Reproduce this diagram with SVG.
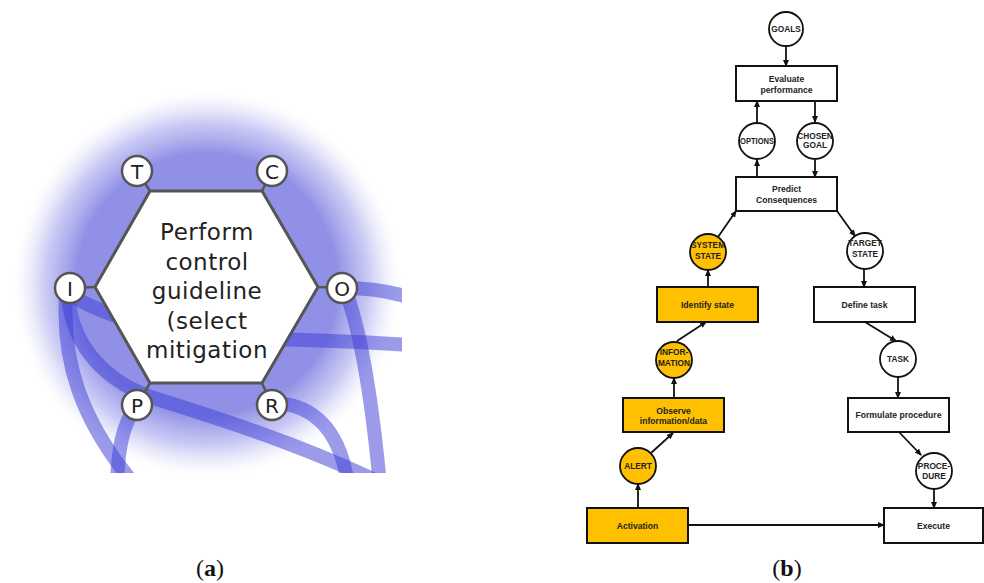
<svg xmlns="http://www.w3.org/2000/svg" width="984" height="583" viewBox="0 0 984 583">
  <defs>
    <radialGradient id="glow" cx="207" cy="284" r="195" gradientUnits="userSpaceOnUse">
      <stop offset="0" stop-color="#9090e6" stop-opacity="1"/>
      <stop offset="0.67" stop-color="#9090e6" stop-opacity="1"/>
      <stop offset="0.83" stop-color="#a0a0ec" stop-opacity="0.55"/>
      <stop offset="0.94" stop-color="#c0c0f2" stop-opacity="0.15"/>
      <stop offset="1" stop-color="#ffffff" stop-opacity="0"/>
    </radialGradient>
    <clipPath id="panelA">
      <rect x="0" y="60" width="402" height="413"/>
    </clipPath>
    <marker id="arrow" markerUnits="userSpaceOnUse" markerWidth="7" markerHeight="6" refX="6" refY="3" orient="auto">
      <path d="M0,0 L7,3 L0,6 z" fill="#111"/>
    </marker>
    <style>
      .band { fill: none; stroke: #4040d6; stroke-opacity: 0.52; stroke-width: 14; }
      .hex { fill: #ffffff; stroke: #555555; stroke-width: 3; stroke-linejoin: round; }
      .stub { stroke: #555555; stroke-width: 2.5; }
      .port { fill: #ffffff; stroke: #555555; stroke-width: 2.5; }
      .portText { font-family: "DejaVu Sans", sans-serif; font-size: 20px; fill: #222; text-anchor: middle; }
      .hexText { font-family: "DejaVu Sans", sans-serif; font-size: 23px; fill: #222; text-anchor: middle; }
      .box { fill: #ffffff; stroke: #111; stroke-width: 2; }
      .boxO { fill: #ffc000; stroke: #111; stroke-width: 2; }
      .node { fill: #ffffff; stroke: #111; stroke-width: 1.8; }
      .nodeO { fill: #ffc000; stroke: #111; stroke-width: 1.8; }
      .lbl { font-family: "Liberation Sans", Arial, sans-serif; font-weight: bold; font-size: 8.6px; fill: #222; text-anchor: middle; }
      .clbl { font-family: "Liberation Sans", Arial, sans-serif; font-weight: bold; font-size: 8.3px; fill: #222; text-anchor: middle; }
      .conn { stroke: #111; stroke-width: 1.8; fill: none; marker-end: url(#arrow); }
      .cap { font-family: "Liberation Serif", serif; font-size: 24px; fill: #111; text-anchor: middle; }
    </style>
  </defs>

  <rect width="984" height="583" fill="#ffffff"/>

  <!-- Panel (a): control function hexagon -->
  <g id="panel-a" clip-path="url(#panelA)">
    <rect x="0" y="60" width="420" height="440" fill="url(#glow)"/>
    <g id="couplings">
      <path class="band" d="M72,296 C120,325 200,338 260,339 S380,343 410,345"/>
      <path class="band" d="M345,288 C368,288 392,292 412,298"/>
      <path class="band" d="M346,292 C360,330 372,400 380,485"/>
      <path class="band" d="M276,403 C312,405 340,428 348,485"/>
      <path class="band" d="M68,295 C72,350 110,385 160,400 C230,422 300,445 375,480"/>
      <path class="band" d="M66,295 C62,360 80,420 135,485"/>
      <path class="band" d="M137,405 C122,425 118,450 117,485"/>
    </g>
    <g id="stubs">
      <line class="stub" x1="137" y1="171" x2="150" y2="191"/>
      <line class="stub" x1="272" y1="171" x2="262" y2="191"/>
      <line class="stub" x1="70" y1="288" x2="95" y2="287"/>
      <line class="stub" x1="342" y1="288" x2="318" y2="287"/>
      <line class="stub" x1="137" y1="405" x2="150" y2="383"/>
      <line class="stub" x1="272" y1="405" x2="262" y2="383"/>
    </g>
    <g id="function">
      <polygon class="hex" points="150,191 262,191 318,287 262,383 150,383 95,287"/>
      <text class="hexText" x="207" y="240" letter-spacing="0.5">Perform</text>
      <text class="hexText" x="207" y="269.5" letter-spacing="0.5">control</text>
      <text class="hexText" x="207" y="299" letter-spacing="0.5">guideline</text>
      <text class="hexText" x="207" y="328.5" letter-spacing="0.5">(select</text>
      <text class="hexText" x="207" y="358" letter-spacing="0.5">mitigation</text>
    </g>
    <g id="port-T"><circle class="port" cx="137" cy="171" r="15"/><text class="portText" x="137" y="178.5">T</text></g>
    <g id="port-C"><circle class="port" cx="272" cy="171" r="15"/><text class="portText" x="272" y="178.5">C</text></g>
    <g id="port-I"><circle class="port" cx="70" cy="288" r="15"/><text class="portText" x="70" y="295.5">I</text></g>
    <g id="port-O"><circle class="port" cx="342" cy="288" r="15"/><text class="portText" x="342" y="295.5">O</text></g>
    <g id="port-P"><circle class="port" cx="137" cy="405" r="15"/><text class="portText" x="137" y="412.5">P</text></g>
    <g id="port-R"><circle class="port" cx="272" cy="405" r="15"/><text class="portText" x="272" y="412.5">R</text></g>
  </g>

  <!-- Panel (b): decision ladder -->
  <g id="connectors">
    <line class="conn" x1="786" y1="47" x2="786" y2="66"/>
    <line class="conn" x1="815" y1="101" x2="815" y2="122"/>
    <line class="conn" x1="815" y1="160" x2="815" y2="177"/>
    <line class="conn" x1="757" y1="177" x2="757" y2="160"/>
    <line class="conn" x1="757" y1="123" x2="757" y2="101"/>
    <line class="conn" x1="718" y1="237" x2="736" y2="211"/>
    <line class="conn" x1="837" y1="211" x2="855" y2="236"/>
    <line class="conn" x1="708" y1="287" x2="708" y2="270"/>
    <line class="conn" x1="864" y1="269" x2="864" y2="287"/>
    <line class="conn" x1="677" y1="341" x2="706" y2="322"/>
    <line class="conn" x1="865" y1="322" x2="896" y2="341"/>
    <line class="conn" x1="674" y1="398" x2="674" y2="378"/>
    <line class="conn" x1="898" y1="377" x2="898" y2="398"/>
    <line class="conn" x1="651" y1="453" x2="673" y2="433"/>
    <line class="conn" x1="899" y1="432" x2="921" y2="455"/>
    <line class="conn" x1="638" y1="508" x2="638" y2="484"/>
    <line class="conn" x1="934" y1="489" x2="934" y2="508"/>
    <line class="conn" x1="688" y1="525" x2="884" y2="525"/>
  </g>

  <g id="goals"><circle class="node" cx="786" cy="29" r="17"/><text class="clbl" x="786" y="32">GOALS</text></g>
  <g id="evaluate"><rect class="box" x="736" y="66" width="101" height="35"/><text class="lbl" x="786.5" y="82">Evaluate</text><text class="lbl" x="786.5" y="92.5">performance</text></g>
  <g id="options"><circle class="node" cx="757" cy="141" r="18"/><text class="clbl" x="757" y="144" textLength="34" lengthAdjust="spacingAndGlyphs">OPTIONS</text></g>
  <g id="chosen-goal"><circle class="node" cx="815" cy="141" r="18"/><text class="clbl" x="815" y="139">CHOSEN</text><text class="clbl" x="815" y="148">GOAL</text></g>
  <g id="predict"><rect class="box" x="736" y="177" width="101" height="34"/><text class="lbl" x="786.5" y="192">Predict</text><text class="lbl" x="786.5" y="203">Consequences</text></g>
  <g id="system-state"><circle class="nodeO" cx="708" cy="252" r="18"/><text class="clbl" x="708" y="248">SYSTEM</text><text class="clbl" x="708" y="259">STATE</text></g>
  <g id="target-state"><circle class="node" cx="865" cy="251" r="18"/><text class="clbl" x="865" y="246">TARGET</text><text class="clbl" x="865" y="257">STATE</text></g>
  <g id="identify-state"><rect class="boxO" x="657" y="287" width="101" height="35"/><text class="lbl" x="707.5" y="308">Identify state</text></g>
  <g id="define-task"><rect class="box" x="814" y="287" width="101" height="35"/><text class="lbl" x="864.5" y="308">Define task</text></g>
  <g id="information"><circle class="nodeO" cx="674" cy="360" r="18"/><text class="clbl" x="674" y="355">INFOR-</text><text class="clbl" x="674" y="366">MATION</text></g>
  <g id="task"><circle class="node" cx="898" cy="359" r="18"/><text class="clbl" x="898" y="362">TASK</text></g>
  <g id="observe"><rect class="boxO" x="623" y="398" width="101" height="34"/><text class="lbl" x="673.5" y="414">Observe</text><text class="lbl" x="673.5" y="424">information/data</text></g>
  <g id="formulate"><rect class="box" x="848" y="398" width="101" height="34"/><text class="lbl" x="898.5" y="418">Formulate procedure</text></g>
  <g id="alert"><circle class="nodeO" cx="638" cy="466" r="18"/><text class="clbl" x="638" y="469">ALERT</text></g>
  <g id="procedure"><circle class="node" cx="934" cy="471" r="18"/><text class="clbl" x="934" y="469">PROCE-</text><text class="clbl" x="934" y="479">DURE</text></g>
  <g id="activation"><rect class="boxO" x="587" y="508" width="101" height="35"/><text class="lbl" x="637.5" y="529">Activation</text></g>
  <g id="execute"><rect class="box" x="884" y="508" width="99" height="35"/><text class="lbl" x="933.5" y="529">Execute</text></g>

  <g id="captions">
    <text class="cap" x="210" y="576">(<tspan font-weight="bold">a</tspan>)</text>
    <text class="cap" x="787" y="576">(<tspan font-weight="bold">b</tspan>)</text>
  </g>
</svg>
